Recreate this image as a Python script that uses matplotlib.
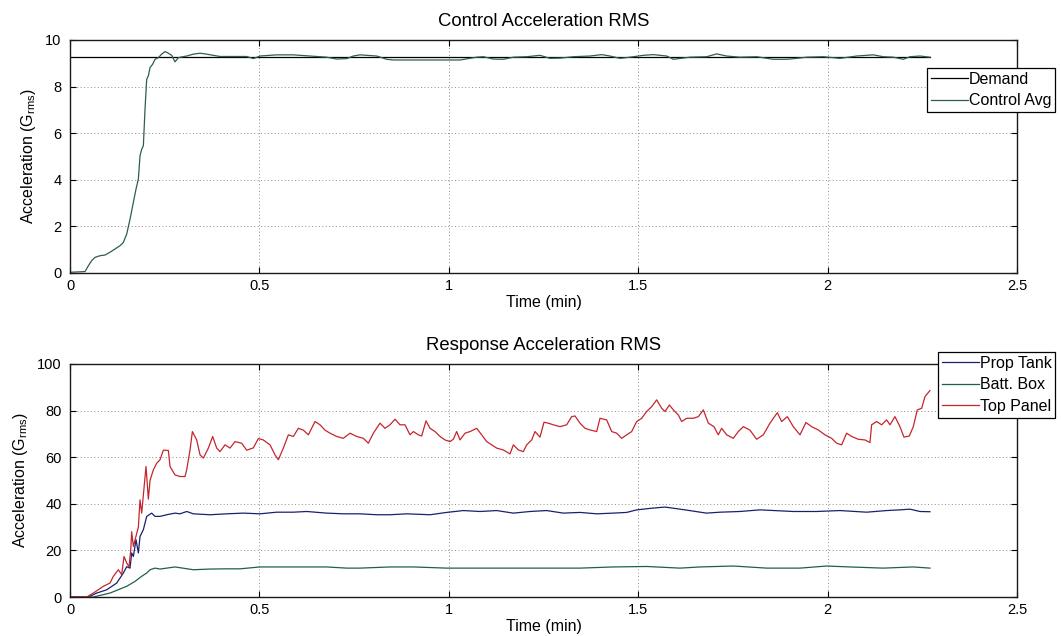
#!/usr/bin/env python3
"""Control and response acceleration RMS vs time."""

import matplotlib

matplotlib.use("Agg")
import matplotlib.pyplot as plt

plt.rcParams["font.family"] = ["Liberation Sans", "DejaVu Sans"]

# --- control plot data (time in min, G rms) ---
demand_t = [0.0, 2.27]
demand_g = [9.27, 9.27]

control_t = [
    0.0, 0.0396, 0.0484, 0.0572, 0.066, 0.0792, 0.0924, 0.1056, 0.1188, 0.132,
    0.1408, 0.1496, 0.1584, 0.1672, 0.1742, 0.1804, 0.1848, 0.1892, 0.1936, 0.198,
    0.2024, 0.2068, 0.2112, 0.2182, 0.2244, 0.2332, 0.242, 0.2508, 0.2596, 0.2684,
    0.2772, 0.286, 0.2948, 0.308, 0.3256, 0.3432, 0.3608, 0.3784, 0.396, 0.4312,
    0.4664, 0.484, 0.5016, 0.5456, 0.5896, 0.6336, 0.6776, 0.704, 0.7304, 0.748,
    0.7656, 0.8096, 0.836, 0.8536, 0.9416, 1.0296, 1.0736, 1.0912, 1.1176, 1.144,
    1.1704, 1.2056, 1.2408, 1.2672, 1.2936, 1.3288, 1.3728, 1.4036, 1.4256, 1.452,
    1.4784, 1.5136, 1.54, 1.5752, 1.5928, 1.6368, 1.6808, 1.7071, 1.7335, 1.7687,
    1.8127, 1.8567, 1.8919, 1.9183, 1.9447, 1.9887, 2.0327, 2.0767, 2.1207, 2.1471,
    2.1735, 2.1999, 2.2175, 2.2439, 2.2703,
]
control_g = [
    0.03, 0.06, 0.31, 0.53, 0.67, 0.74, 0.77, 0.89, 1.03, 1.17,
    1.31, 1.67, 2.31, 3.03, 3.6, 4.03, 5.03, 5.31, 5.46, 7.03,
    8.31, 8.46, 8.81, 8.96, 9.17, 9.24, 9.39, 9.5, 9.43, 9.34,
    9.06, 9.24, 9.27, 9.31, 9.39, 9.43, 9.39, 9.34, 9.29, 9.29,
    9.29, 9.2, 9.31, 9.36, 9.36, 9.31, 9.26, 9.18, 9.2, 9.31,
    9.36, 9.31, 9.17, 9.14, 9.14, 9.14, 9.26, 9.28, 9.18, 9.17,
    9.26, 9.28, 9.34, 9.21, 9.22, 9.28, 9.31, 9.37, 9.31, 9.21,
    9.26, 9.34, 9.37, 9.31, 9.17, 9.26, 9.28, 9.4, 9.31, 9.26,
    9.28, 9.17, 9.17, 9.21, 9.26, 9.28, 9.21, 9.31, 9.36, 9.28,
    9.26, 9.17, 9.28, 9.31, 9.26,
]

# --- response plot data ---
top_panel_t = [
    0.0, 0.044, 0.0616, 0.088, 0.1056, 0.1144, 0.1276, 0.1364, 0.1426, 0.1496,
    0.1558, 0.1602, 0.1628, 0.1672, 0.1804, 0.1848, 0.1892, 0.2006, 0.2068, 0.2112,
    0.22, 0.2288, 0.2376, 0.2464, 0.2596, 0.264, 0.2772, 0.2904, 0.3036, 0.308,
    0.3168, 0.323, 0.3344, 0.3432, 0.352, 0.3652, 0.3766, 0.3872, 0.396, 0.4092,
    0.4224, 0.4356, 0.4532, 0.4664, 0.484, 0.4972, 0.5104, 0.528, 0.5412, 0.55,
    0.5632, 0.5764, 0.5896, 0.6028, 0.616, 0.6292, 0.6468, 0.66, 0.6732, 0.6864,
    0.704, 0.7216, 0.7392, 0.7568, 0.7744, 0.7876, 0.8008, 0.8184, 0.8316, 0.8448,
    0.858, 0.8712, 0.8844, 0.8976, 0.9064, 0.9196, 0.9284, 0.9398, 0.9504, 0.9636,
    0.9768, 0.99, 1.0032, 1.012, 1.0208, 1.0296, 1.0428, 1.056, 1.0736, 1.0868,
    1.1, 1.1132, 1.1264, 1.144, 1.1616, 1.1704, 1.1836, 1.1968, 1.2056, 1.2188,
    1.2276, 1.2408, 1.2513, 1.2628, 1.276, 1.2936, 1.3112, 1.3244, 1.3332, 1.3464,
    1.3596, 1.3728, 1.3904, 1.3992, 1.4168, 1.43, 1.4432, 1.4564, 1.4696, 1.4828,
    1.496, 1.5092, 1.5224, 1.5356, 1.5488, 1.562, 1.5708, 1.5823, 1.5928, 1.606,
    1.6148, 1.628, 1.6456, 1.6588, 1.672, 1.6852, 1.7, 1.7115, 1.7203, 1.7335,
    1.7511, 1.7643, 1.7775, 1.7951, 1.8127, 1.8303, 1.8479, 1.8673, 1.8787, 1.8937,
    1.9095, 1.9271, 1.9429, 1.9579, 1.9755, 1.9931, 2.0107, 2.0239, 2.0371, 2.0503,
    2.0635, 2.0811, 2.0987, 2.1119, 2.1163, 2.1295, 2.1427, 2.1559, 2.1647, 2.1779,
    2.1911, 2.2017, 2.2158, 2.2263, 2.2369, 2.2483, 2.2571, 2.2703,
]
top_panel_g = [
    0.0, 0.0, 1.7, 4.6, 6.0, 8.9, 11.7, 9.6, 17.4, 14.6,
    13.0, 20.0, 28.0, 21.7, 30.0, 41.7, 36.0, 56.0, 42.0, 50.0,
    54.6, 57.4, 58.9, 63.0, 62.9, 56.0, 52.4, 51.7, 51.7, 54.6,
    63.0, 71.0, 67.4, 61.0, 59.6, 63.9, 68.9, 63.9, 62.4, 65.3,
    63.9, 66.7, 66.0, 63.0, 64.0, 68.0, 67.4, 65.3, 61.0, 58.9,
    63.9, 69.6, 68.9, 72.4, 71.6, 69.6, 75.3, 73.9, 71.6, 70.3,
    68.9, 68.1, 70.3, 68.9, 68.1, 66.0, 70.3, 74.6, 72.4, 73.9,
    76.3, 73.9, 73.9, 69.6, 71.0, 69.6, 69.1, 75.6, 72.4, 71.0,
    68.9, 67.4, 66.7, 67.7, 71.0, 67.4, 70.3, 71.0, 72.4, 69.6,
    66.7, 65.3, 63.9, 63.1, 61.4, 65.3, 63.1, 62.4, 65.3, 67.4,
    71.0, 68.6, 75.0, 74.6, 73.9, 73.1, 73.9, 77.4, 77.7, 74.6,
    72.4, 71.7, 71.0, 76.7, 76.0, 71.0, 70.3, 68.1, 69.6, 71.0,
    75.3, 76.7, 79.6, 81.7, 84.6, 81.0, 79.6, 82.4, 80.3, 78.1,
    75.3, 76.7, 76.7, 77.4, 80.3, 74.6, 73.1, 69.6, 72.4, 69.6,
    68.1, 71.0, 73.1, 71.6, 67.7, 69.6, 74.6, 79.1, 75.3, 77.4,
    73.1, 69.6, 74.9, 73.1, 71.7, 69.6, 68.1, 66.0, 65.3, 70.3,
    68.9, 67.7, 67.4, 66.3, 73.9, 75.3, 73.9, 76.0, 73.9, 77.4,
    73.1, 68.6, 69.1, 73.1, 80.3, 81.0, 86.0, 88.6,
]

prop_tank_t = [
    0.0, 0.0484, 0.0704, 0.0968, 0.1232, 0.1408, 0.1496, 0.1584, 0.1628, 0.1672,
    0.1742, 0.1804, 0.1848, 0.1936, 0.2024, 0.2156, 0.2244, 0.2376, 0.2552, 0.2772,
    0.2904, 0.308, 0.3256, 0.3696, 0.4136, 0.4576, 0.5016, 0.5456, 0.5896, 0.6248,
    0.6776, 0.7216, 0.7656, 0.8096, 0.8448, 0.8888, 0.9504, 0.9944, 1.0384, 1.0824,
    1.1264, 1.1704, 1.2144, 1.2584, 1.3024, 1.3464, 1.3904, 1.4344, 1.4696, 1.4960,
    1.5356, 1.5708, 1.6236, 1.68, 1.7159, 1.7687, 1.8215, 1.9095, 1.9711, 2.0327,
    2.1031, 2.1559, 2.1911, 2.2175, 2.2439, 2.2703,
]
prop_tank_g = [
    0.0, 0.0, 1.7, 3.1, 6.0, 10.3, 13.0, 12.4, 18.9, 17.4,
    24.6, 18.9, 26.0, 28.9, 34.6, 36.0, 34.6, 34.6, 35.3, 36.0,
    35.7, 36.7, 35.7, 35.3, 35.7, 36.0, 35.7, 36.4, 36.4, 36.7,
    36.0, 35.7, 35.7, 35.3, 35.3, 35.7, 35.3, 36.3, 37.1, 36.7,
    37.1, 36.0, 36.7, 37.1, 36.0, 36.3, 35.7, 36.0, 36.3, 37.4,
    38.1, 38.6, 37.4, 36.0, 36.4, 36.7, 37.4, 36.7, 36.7, 37.1,
    36.4, 37.1, 37.4, 37.7, 36.7, 36.6,
]

batt_box_t = [
    0.0, 0.0616, 0.1056, 0.1496, 0.1716, 0.1892, 0.2024, 0.2112, 0.2244, 0.2376,
    0.2772, 0.3256, 0.3696, 0.4136, 0.4488, 0.5016, 0.5896, 0.6776, 0.7304, 0.7656,
    0.8448, 0.9064, 0.9944, 1.0824, 1.1704, 1.2584, 1.3464, 1.4344, 1.5224, 1.6104,
    1.6632, 1.7511, 1.8391, 1.9271, 1.9975, 2.0591, 2.1471, 2.2263, 2.2703,
]
batt_box_g = [
    0.0, 0.0, 1.7, 4.6, 6.7, 8.9, 10.3, 11.7, 12.4, 12.0,
    12.9, 11.7, 12.0, 12.1, 12.1, 12.9, 12.9, 12.9, 12.4, 12.4,
    12.9, 12.9, 12.4, 12.4, 12.4, 12.4, 12.4, 12.9, 13.1, 12.4,
    12.9, 13.3, 12.4, 12.4, 13.3, 12.9, 12.4, 12.9, 12.4,
]

x_ticks = [0, 0.5, 1, 1.5, 2, 2.5]
x_tick_labels = ["0", "0.5", "1", "1.5", "2", "2.5"]


def style_axes(ax, ylim, yticks):
    ax.set_xlim(0, 2.5)
    ax.set_ylim(*ylim)
    ax.set_xticks(x_ticks)
    ax.set_xticklabels(x_tick_labels)
    ax.set_yticks(yticks)
    ax.tick_params(direction="in", top=True, right=True, labelsize=10.5,
                   length=4, width=0.8)
    ax.tick_params(axis="x", pad=4)
    ax.tick_params(axis="y", pad=6)
    ax.grid(True, linestyle=(0, (1, 2.5)), color="0.55", linewidth=0.7)
    for spine in ax.spines.values():
        spine.set_linewidth(1.0)
        spine.set_color("0.1")
    ax.set_xlabel("Time (min)", fontsize=11.5, labelpad=1.5)
    ax.set_ylabel("Acceleration (G$_{\\mathregular{rms}}$)", fontsize=11.5, labelpad=5)


def add_legend(ax, anchor):
    leg = ax.legend(loc="upper left", bbox_to_anchor=anchor, fontsize=11.5,
                    frameon=True, fancybox=False, framealpha=1, edgecolor="black",
                    handlelength=2.3, handletextpad=0.05, borderpad=0.25,
                    labelspacing=0.4, borderaxespad=0)
    leg.get_frame().set_linewidth(0.9)
    return leg


fig = plt.figure(figsize=(10.61, 6.36), dpi=100)
ax1 = fig.add_axes([0.066, 0.5708, 0.8925, 0.3664])
ax2 = fig.add_axes([0.066, 0.0613, 0.8925, 0.3664])

ax1.plot(demand_t, demand_g, color="black", linewidth=0.9, label="Demand")
ax1.plot(control_t, control_g, color="#2f5f46", linewidth=0.9, label="Control Avg")
style_axes(ax1, (0, 10), [0, 2, 4, 6, 8, 10])
ax1.set_title("Control Acceleration RMS", fontsize=13.3, pad=10)
add_legend(ax1, (0.905, 0.88))

ax2.plot(prop_tank_t, prop_tank_g, color="#1a206e", linewidth=0.9, label="Prop Tank")
ax2.plot(batt_box_t, batt_box_g, color="#1f5f4f", linewidth=0.9, label="Batt. Box")
ax2.plot(top_panel_t, top_panel_g, color="#c4262e", linewidth=0.9, label="Top Panel")
style_axes(ax2, (0, 100), [0, 20, 40, 60, 80, 100])
ax2.set_title("Response Acceleration RMS", fontsize=13.3, pad=10)
add_legend(ax2, (0.9166, 1.0515))

fig.savefig("out.png", dpi=100)
